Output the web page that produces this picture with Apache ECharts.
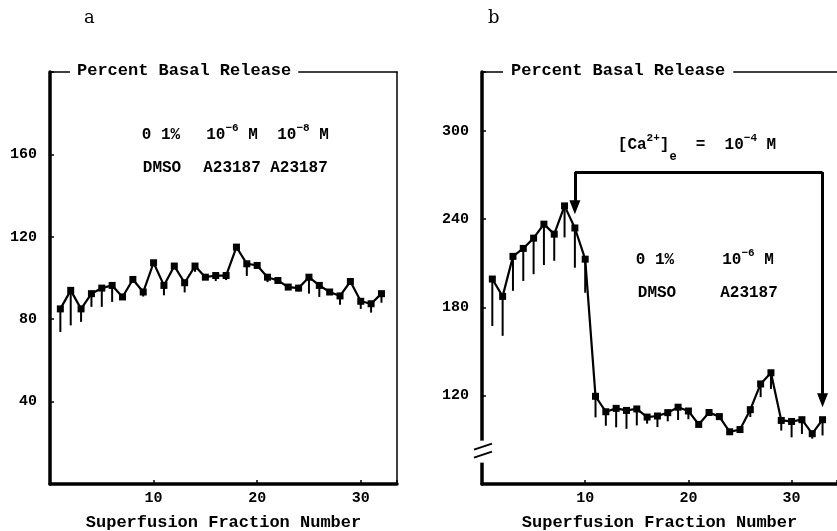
<!DOCTYPE html>
<html>
<head>
<meta charset="utf-8">
<script src="https://cdn.jsdelivr.net/npm/echarts@6/dist/echarts.min.js"></script>
<style>
  html, body { margin: 0; padding: 0; background: #fff; }
  #main { width: 837px; height: 531px; }
</style>
</head>
<body>
<div id="main"></div>
<script>
var FONT = 'Liberation Mono';

// panel a : 0.1% DMSO then A23187
var aFraction = [1,2,3,4,5,6,7,8,9,10,11,12,13,14,15,16,17,18,19,20,21,22,23,24,25,26,27,28,29,30,31,32];
var aRelease = [85,94,85,92.4,95.1,96.4,90.8,99.3,93.2,107.4,96.4,105.8,97.7,105.8,100.4,101.2,101.2,115,106.9,106.1,100.4,98.8,95.6,95.1,100.4,96.4,93.2,91.3,98.3,88.7,87.5,92.4];
var aLower   = [73.8,77,78.7,86,86,88.4,90.8,99.3,91,107.4,91.6,105.8,93,103,100.4,98.5,99,115,101,106.1,98,98.8,95.6,93.5,92.4,90.8,93.2,87,98.3,85,83.2,88];

// panel b : [Ca2+]e lowered from fraction 9
var bFraction = [1,2,3,4,5,6,7,8,9,10,11,12,13,14,15,16,17,18,19,20,21,22,23,24,25,26,27,28,29,30,31,32,33];
var bRelease = [199.3,187.5,214.7,220.1,227.1,236.6,229.8,249,234,212.8,119.6,109.1,111.4,110,111,105.5,106.2,108.5,112.2,109.6,100.5,108.6,105.8,95.5,97,110.5,128,135.6,103.2,102.5,103.7,94.2,103.7];
var bLower   = [167.4,160.7,191.3,198,202.6,208.8,211.7,227.6,207,190,105.3,99.6,98.5,97.5,99.8,101,98.7,102.6,103.5,104,100.5,108.6,105.8,95.5,97,105.5,119,124.6,96.3,91.7,94,90.8,93];

var aYTicks = [40, 80, 120, 160];
var bYTicks = [120, 180, 240, 300];
var xTicks = [10, 20, 30];
// Ca2+ bracket: start fraction, end fraction, bracket level, arrow tips
var caStart = 9, caEnd = 33, caLevel = 272, caTipStart = 248, caTipEnd = 117;

var chart = echarts.init(document.getElementById('main'));

function keep(list) {
  return function (v) { return list.indexOf(v) >= 0 ? String(v) : ''; };
}

function bottomAxis(gi, max) {
  return {
    type: 'value', gridIndex: gi, min: 0, max: max, interval: 10, position: 'bottom',
    axisLine: { show: true, onZero: false, lineStyle: { color: '#000', width: 3.5 } },
    axisTick: { show: true, inside: true, length: 4, lineStyle: { color: '#000', width: 1.5 } },
    axisLabel: { formatter: keep(xTicks), color: '#000', fontFamily: FONT, fontWeight: 'bold', fontSize: 15, margin: 7 },
    splitLine: { show: false },
    name: 'Superfusion Fraction Number', nameLocation: 'middle', nameGap: 30,
    nameTextStyle: { color: '#000', fontFamily: FONT, fontWeight: 'bold', fontSize: 17 }
  };
}
function frameAxis(gi, max, pos) {
  return {
    type: 'value', gridIndex: gi, min: 0, max: max, position: pos,
    axisLine: { show: true, onZero: false, lineStyle: { color: '#000', width: 1.5 } },
    axisTick: { show: false }, axisLabel: { show: false }, splitLine: { show: false }
  };
}
function leftAxis(gi, min, max, interval, ticks) {
  return {
    type: 'value', gridIndex: gi, min: min, max: max, interval: interval, position: 'left',
    axisLine: { show: true, onZero: false, lineStyle: { color: '#000', width: 3.5 } },
    axisTick: { show: true, inside: true, length: 4, lineStyle: { color: '#000', width: 1.5 } },
    axisLabel: { formatter: keep(ticks), color: '#000', fontFamily: FONT, fontWeight: 'bold', fontSize: 15, margin: 13 },
    splitLine: { show: false }
  };
}

function lineSeries(xi, yi, fr, vals) {
  return {
    type: 'line', xAxisIndex: xi, yAxisIndex: yi,
    data: fr.map(function (f, i) { return [f, vals[i]]; }),
    symbol: 'rect', symbolSize: 7, z: 5,
    lineStyle: { color: '#000', width: 2.2 },
    itemStyle: { color: '#000' }
  };
}
function errorSeries(xi, yi, fr, vals, low) {
  return {
    type: 'custom', xAxisIndex: xi, yAxisIndex: yi,
    data: fr.map(function (f, i) { return [f, vals[i], low[i]]; }),
    renderItem: function (params, api) {
      var p1 = api.coord([api.value(0), api.value(1)]);
      var p2 = api.coord([api.value(0), api.value(2)]);
      return { type: 'line', shape: { x1: p1[0], y1: p1[1], x2: p2[0], y2: p2[1] },
               style: { stroke: '#000', lineWidth: 2 } };
    },
    z: 4
  };
}

var titleFont = { color: '#000', fontFamily: FONT, fontWeight: 'bold', fontSize: 17 };
var rich = {
  sup: { fontFamily: FONT, fontWeight: 'bold', fontSize: 11, verticalAlign: 'top', lineHeight: 24, color: '#000' },
  sub: { fontFamily: FONT, fontWeight: 'bold', fontSize: 12, verticalAlign: 'bottom', lineHeight: 24, color: '#000', padding: [0, 0, -6, 0] }
};
function note(text, x, y) {
  return { type: 'text', x: x, y: y, z: 10,
    style: { text: text, fill: '#000', font: 'bold 16px "Liberation Mono"', align: 'center', verticalAlign: 'middle', rich: rich } };
}

chart.setOption({
  animation: false,
  backgroundColor: '#fff',
  title: [
    { text: 'a', left: 79, top: 4, textStyle: { color: '#000', fontFamily: 'DejaVu Serif', fontWeight: 'normal', fontSize: 18 } },
    { text: 'b', left: 483, top: 4, textStyle: { color: '#000', fontFamily: 'DejaVu Serif', fontWeight: 'normal', fontSize: 18 } },
    { text: 'Percent Basal Release', left: 70, top: 62, padding: [0, 7], backgroundColor: '#fff', textStyle: titleFont },
    { text: 'Percent Basal Release', left: 503, top: 62, padding: [0, 8], backgroundColor: '#fff', textStyle: titleFont }
  ],
  grid: [
    { left: 50, right: 440, top: 72, bottom: 47, outerBoundsMode: 'none' },
    { left: 482, right: 0, top: 72, bottom: 47, outerBoundsMode: 'none' }
  ],
  xAxis: [
    bottomAxis(0, 33.5), frameAxis(0, 33.5, 'top'),
    bottomAxis(1, 34.4), frameAxis(1, 34.4, 'top')
  ],
  yAxis: [
    leftAxis(0, 0, 200, 40, aYTicks),
    { type: 'value', gridIndex: 0, min: 0, max: 200, position: 'right',
      axisLine: { show: true, onZero: false, lineStyle: { color: '#000', width: 1.5 } },
      axisTick: { show: false }, axisLabel: { show: false }, splitLine: { show: false } },
    leftAxis(1, 60, 340, 60, bYTicks)
  ],
  series: [
    errorSeries(0, 0, aFraction, aRelease, aLower),
    lineSeries(0, 0, aFraction, aRelease),
    errorSeries(2, 2, bFraction, bRelease, bLower),
    Object.assign(lineSeries(2, 2, bFraction, bRelease), {
      markLine: {
        silent: true, symbolSize: [11, 14], animation: false,
        label: { show: false },
        lineStyle: { color: '#000', width: 3, type: 'solid' },
        data: [
          [{ coord: [caStart, caLevel], symbol: 'none' }, { coord: [caStart, caTipStart], symbol: 'triangle', symbolRotate: 180 }],
          [{ coord: [caStart, caLevel], symbol: 'none' }, { coord: [caEnd, caLevel], symbol: 'none' }],
          [{ coord: [caEnd, caLevel], symbol: 'none' }, { coord: [caEnd, caTipEnd], symbol: 'triangle', symbolRotate: 180 }]
        ]
      }
    })
  ]
});

// text notes and the axis break on panel b
var brk = chart.convertToPixel({ gridIndex: 1 }, [0, 82]);
chart.setOption({
  graphic: [
    note('0 1%', 161, 135),
    note('10{sup|−6} M', 232, 135),
    note('10{sup|−8} M', 303, 135),
    note('DMSO', 162, 168),
    note('A23187', 232, 168),
    note('A23187', 299, 168),
    note('[Ca{sup|2+}]{sub|e}  =  10{sup|−4} M', 697, 145),
    note('0 1%', 655, 260),
    note('10{sup|−6} M', 748, 260),
    note('DMSO', 657, 293),
    note('A23187', 749, 293),
    { type: 'rect', shape: { x: brk[0] - 4, y: brk[1] - 11, width: 8, height: 22 }, style: { fill: '#fff' }, z: 20 },
    { type: 'line', shape: { x1: brk[0] - 8, y1: brk[1] - 2, x2: brk[0] + 10, y2: brk[1] - 8 }, style: { stroke: '#000', lineWidth: 2 }, z: 21 },
    { type: 'line', shape: { x1: brk[0] - 8, y1: brk[1] + 6, x2: brk[0] + 10, y2: brk[1] }, style: { stroke: '#000', lineWidth: 2 }, z: 21 }
  ]
});
</script>
</body>
</html>
